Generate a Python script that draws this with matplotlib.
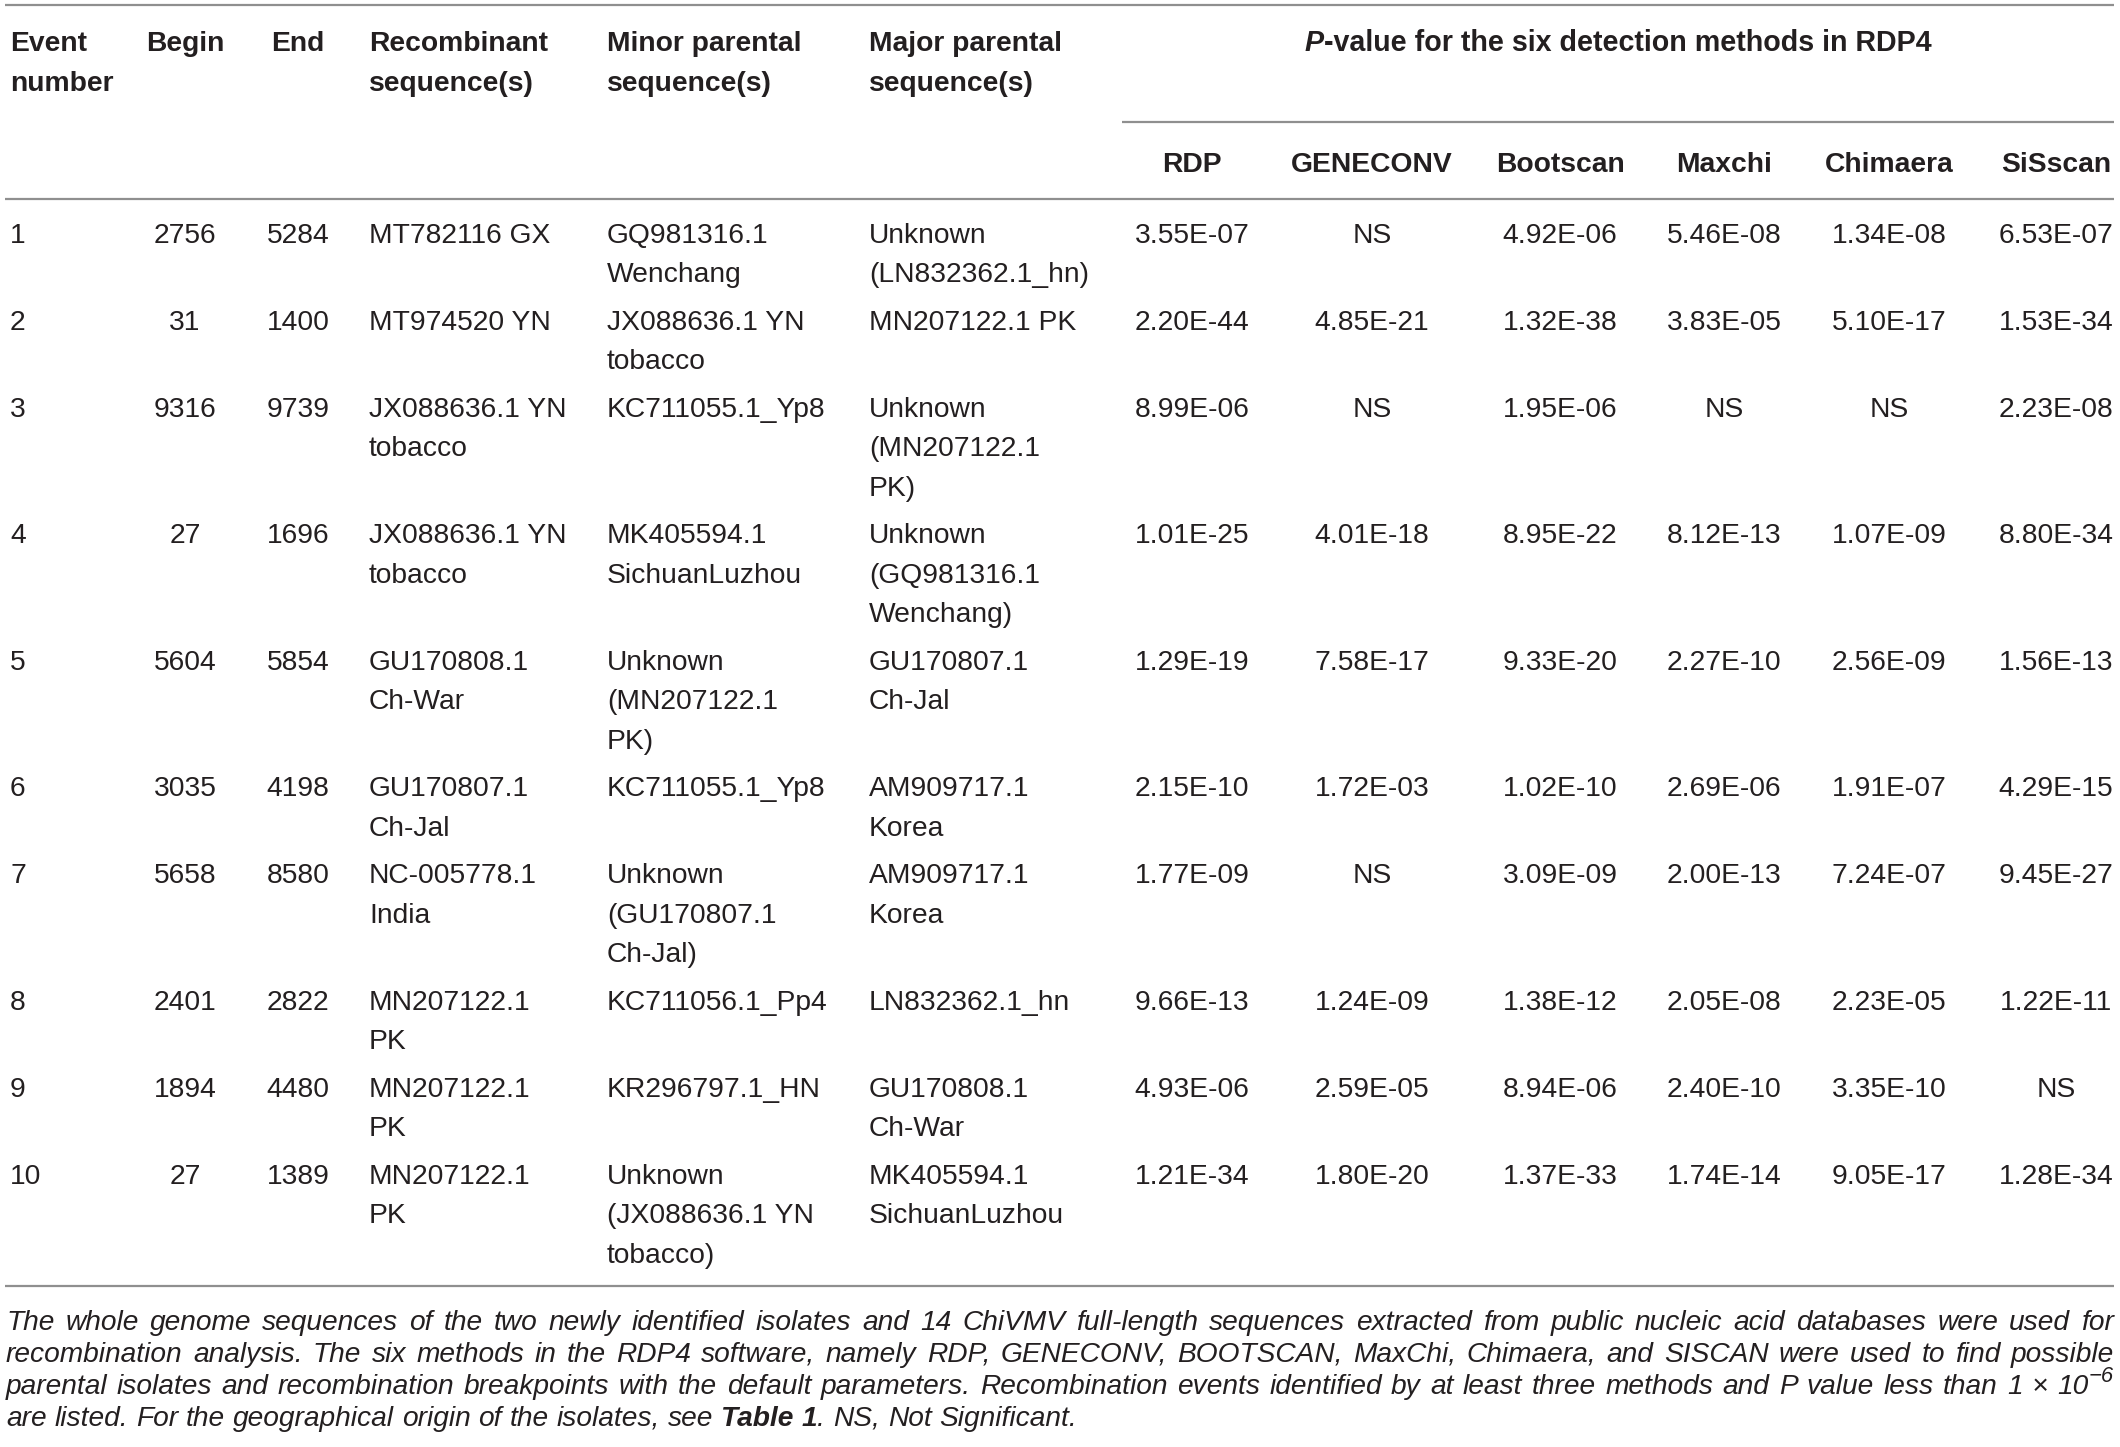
import matplotlib
matplotlib.use("Agg")
import matplotlib.pyplot as plt

# ---- table data ----
events = ["1", "2", "3", "4", "5", "6", "7", "8", "9", "10"]
begins = ["2756", "31", "9316", "27", "5604", "3035", "5658", "2401", "1894", "27"]
ends = ["5284", "1400", "9739", "1696", "5854", "4198", "8580", "2822", "4480", "1389"]
recombinant = ["MT782116 GX", "MT974520 YN", "JX088636.1 YN\ntobacco", "JX088636.1 YN\ntobacco",
               "GU170808.1\nCh-War", "GU170807.1\nCh-Jal", "NC-005778.1\nIndia", "MN207122.1\nPK",
               "MN207122.1\nPK", "MN207122.1\nPK"]
minor_parent = ["GQ981316.1\nWenchang", "JX088636.1 YN\ntobacco", "KC711055.1_Yp8",
                "MK405594.1\nSichuanLuzhou", "Unknown\n(MN207122.1\nPK)", "KC711055.1_Yp8",
                "Unknown\n(GU170807.1\nCh-Jal)", "KC711056.1_Pp4", "KR296797.1_HN",
                "Unknown\n(JX088636.1 YN\ntobacco)"]
major_parent = ["Unknown\n(LN832362.1_hn)", "MN207122.1 PK", "Unknown\n(MN207122.1\nPK)",
                "Unknown\n(GQ981316.1\nWenchang)", "GU170807.1\nCh-Jal", "AM909717.1\nKorea",
                "AM909717.1\nKorea", "LN832362.1_hn", "GU170808.1\nCh-War",
                "MK405594.1\nSichuanLuzhou"]

methods = ["RDP", "GENECONV", "Bootscan", "Maxchi", "Chimaera", "SiSscan"]
p_rdp = ["3.55E-07", "2.20E-44", "8.99E-06", "1.01E-25", "1.29E-19", "2.15E-10", "1.77E-09", "9.66E-13", "4.93E-06", "1.21E-34"]
p_geneconv = ["NS", "4.85E-21", "NS", "4.01E-18", "7.58E-17", "1.72E-03", "NS", "1.24E-09", "2.59E-05", "1.80E-20"]
p_bootscan = ["4.92E-06", "1.32E-38", "1.95E-06", "8.95E-22", "9.33E-20", "1.02E-10", "3.09E-09", "1.38E-12", "8.94E-06", "1.37E-33"]
p_maxchi = ["5.46E-08", "3.83E-05", "NS", "8.12E-13", "2.27E-10", "2.69E-06", "2.00E-13", "2.05E-08", "2.40E-10", "1.74E-14"]
p_chimaera = ["1.34E-08", "5.10E-17", "NS", "1.07E-09", "2.56E-09", "1.91E-07", "7.24E-07", "2.23E-05", "3.35E-10", "9.05E-17"]
p_sisscan = ["6.53E-07", "1.53E-34", "2.23E-08", "8.80E-34", "1.56E-13", "4.29E-15", "9.45E-27", "1.22E-11", "NS", "1.28E-34"]
p_values = [p_rdp, p_geneconv, p_bootscan, p_maxchi, p_chimaera, p_sisscan]

headers = ["Event\nnumber", "Begin", "End", "Recombinant\nsequence(s)",
           "Minor parental\nsequence(s)", "Major parental\nsequence(s)"]
group_title = "-value for the six detection methods in RDP4"

footnote_lines = [
    "The whole genome sequences of the two newly identified isolates and 14 ChiVMV full-length sequences extracted from public nucleic acid databases were used for",
    "recombination analysis. The six methods in the RDP4 software, namely RDP, GENECONV, BOOTSCAN, MaxChi, Chimaera, and SISCAN were used to find possible",
    "parental isolates and recombination breakpoints with the default parameters. Recombination events identified by at least three methods and P value less than 1 \u00d7 10",
    "are listed. For the geographical origin of the isolates, see Table 1. NS, Not Significant.",
]

# ---- layout (pixels) ----
W, H = 2120, 1447
FONT = "Liberation Sans"
FS = 20.3
TXT = "#231f20"
RULE = "#8f8f8f"

fig = plt.figure(figsize=(W / 100, H / 100), dpi=100)
ax = fig.add_axes([0, 0, 1, 1])
ax.set_xlim(0, W)
ax.set_ylim(H, 0)
ax.axis("off")
fig.canvas.draw()
r = fig.canvas.get_renderer()

col_x = [10, 185, 298, 369, 607, 869]
col_ha = ["left", "center", "center", "left", "left", "left"]
meth_x = [1192, 1372, 1560, 1724, 1889, 2056]

line_step = 39.5
row_gap = 8


def put(x, yc, s, ha="left", weight="normal", style="normal", size=FS, step=line_step):
    # draw each line on its own so the first line sits at yc
    for k, part in enumerate(s.split("\n")):
        ax.text(x, yc + k * step + 0.36 * size * 100 / 72, part, ha=ha, va="baseline",
                fontsize=size, family=FONT, weight=weight, style=style, color=TXT)


def width_of(s, weight="normal", style="normal", size=FS):
    tt = ax.text(0, 0, s, fontsize=size, family=FONT, style=style, weight=weight)
    w = tt.get_window_extent(r).width
    tt.remove()
    return w


# rules
ax.plot([5, 2114], [5, 5], color=RULE, lw=1.6, solid_capstyle="butt")
ax.plot([1122, 2114], [122, 122], color=RULE, lw=1.6, solid_capstyle="butt")
ax.plot([5, 2114], [199, 199], color=RULE, lw=1.6, solid_capstyle="butt")

# header
for x, ha, h in zip(col_x, col_ha, headers):
    put(x, 41, h, ha=ha, weight="bold", step=40)
pw = width_of("P", weight="bold", style="italic", size=20.6)
full_w = pw + width_of(group_title, weight="bold", size=20.6)
gx0 = (1122 + 2114) / 2 - full_w / 2
put(gx0, 41, "P", weight="bold", style="italic", size=20.6)
put(gx0 + pw, 41, group_title, weight="bold", size=20.6)
for x, m in zip(meth_x, methods):
    put(x, 162, m, ha="center", weight="bold")

# body rows
y = 232.5
for i in range(len(events)):
    cells = [events[i], begins[i], ends[i], recombinant[i], minor_parent[i], major_parent[i]]
    for x, ha, c in zip(col_x, col_ha, cells):
        put(x, y, c, ha=ha)
    for x, col in zip(meth_x, p_values):
        put(x, y, col[i], ha="center")
    nlines = max(c.count("\n") + 1 for c in cells)
    last = y + (nlines - 1) * line_step
    y = last + line_step + row_gap
bottom = last + 33
ax.plot([5, 2114], [bottom, bottom], color=RULE, lw=1.6, solid_capstyle="butt")

# footnote, justified word by word
left, right = 6, 2114
fs_note = 21.0
while width_of(footnote_lines[0], style="italic", size=fs_note) > (right - left) - 12:
    fs_note -= 0.1
fs_note *= 0.97
space_w = width_of("x x", style="italic", size=fs_note) - width_of("xx", style="italic", size=fs_note)
note_y = [bottom + 34, bottom + 66, bottom + 98, bottom + 130]
for li, line in enumerate(footnote_lines):
    words = line.split(" ")
    segs = []
    for j, wd in enumerate(words):
        if li == 3 and wd == "Table":
            segs.append([(wd, "bold", fs_note, 0)])
        elif li == 3 and wd == "1.":
            segs.append([("1", "bold", fs_note, 0), (".", "normal", fs_note, 0)])
        elif li == 2 and j == len(words) - 1:
            segs.append([(wd, "normal", fs_note, 0), ("\u22126", "normal", fs_note * 0.78, -12)])
        else:
            segs.append([(wd, "normal", fs_note, 0)])
    widths = [sum(width_of(s, wt, "italic", sz) for s, wt, sz, _ in sg) for sg in segs]
    if li < 3:
        gap = (right - left - sum(widths)) / (len(words) - 1)
    else:
        gap = space_w
    x = left
    yb = note_y[li] + 0.36 * fs_note * 100 / 72
    for sg, wdt in zip(segs, widths):
        xx = x
        for s, wt, sz, dy in sg:
            ax.text(xx, yb + dy, s, fontsize=sz, family=FONT, style="italic", weight=wt,
                    color=TXT, va="baseline")
            xx += width_of(s, wt, "italic", sz)
        x += wdt + gap

fig.savefig("out.png", dpi=100, facecolor="white")
